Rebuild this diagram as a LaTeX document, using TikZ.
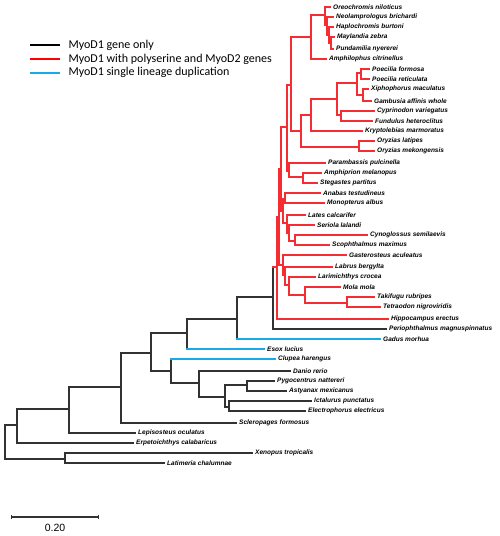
\documentclass[tikz,border=0pt]{standalone}
\usepackage{fontspec}
\setmainfont{Liberation Sans}
\newfontfamily\legfont{Carlito}
\newfontfamily\spfont{Liberation Sans}
\usetikzlibrary{arrows.meta}
\definecolor{treeblack}{RGB}{50,50,50}
\definecolor{treered}{RGB}{245,45,50}
\definecolor{treecyan}{RGB}{25,170,230}
\tikzset{
  treeline/.style={line width=1.5pt,line cap=rect},
  blk/.style={treeline,line width=1.35pt,draw=treeblack},
  rd/.style={treeline,draw=treered},
  cy/.style={treeline,draw=treecyan}}
% same colour parent and child: one elbow path
\newcommand\br[3]{\draw[#1] (#2) |- (#3);}
% black parent, coloured child
\newcommand\brc[3]{\draw[blk] (#2) -- (#2 |- #3); \draw[#1] (#2 |- #3) -- (#3);}
\newcommand\leafnode[4]{\node[leaf] (#1) at ({#3-2.5},#2) {#4};}
\begin{document}
\begin{tikzpicture}[x=1pt,y=-1pt,
  leaf/.style={anchor=west,inner xsep=2.5pt,inner ysep=0.5pt,font=\spfont\bfseries\itshape\fontsize{6.5}{7}\selectfont,text=black},
  legtext/.style={anchor=west,inner sep=0pt,font=\legfont\fontsize{12}{14}\selectfont},
  legline/.style={line width=2.6pt,line cap=butt}]
\useasboundingbox (0,0) rectangle (500,536);
\fill[white] (0,0) rectangle (500,536);
% leaves
\leafnode{l0}{7}{333}{Oreochromis niloticus}
\leafnode{l1}{17}{336}{Neolamprologus brichardi}
\leafnode{l2}{27}{336}{Haplochromis burtoni}
\leafnode{l3}{37}{337}{Maylandia zebra}
\leafnode{l4}{49}{336}{Pundamilia nyererei}
\leafnode{l5}{59}{329}{Amphilophus citrinellus}
\leafnode{l6}{69}{372}{Poecilia formosa}
\leafnode{l7}{79}{372}{Poecilia reticulata}
\leafnode{l8}{89}{371}{Xiphophorus maculatus}
\leafnode{l9}{101}{374}{Gambusia affinis whole}
\leafnode{l10}{111}{377}{Cyprinodon variegatus}
\leafnode{l11}{121}{375}{Fundulus heteroclitus}
\leafnode{l12}{131}{365}{Kryptolebias marmoratus}
\leafnode{l13}{141}{377}{Oryzias latipes}
\leafnode{l14}{151}{377}{Oryzias mekongensis}
\leafnode{l15}{163}{328}{Parambassis pulcinella}
\leafnode{l16}{173}{324}{Amphiprion melanopus}
\leafnode{l17}{183}{320}{Stegastes partitus}
\leafnode{l18}{193}{323}{Anabas testudineus}
\leafnode{l19}{203}{327}{Monopterus albus}
\leafnode{l20}{215}{308}{Lates calcarifer}
\leafnode{l21}{225}{317}{Seriola lalandi}
\leafnode{l22}{235}{370}{Cynoglossus semilaevis}
\leafnode{l23}{245}{332}{Scophthalmus maximus}
\leafnode{l24}{255}{349}{Gasterosteus aculeatus}
\leafnode{l25}{267}{335}{Labrus bergylta}
\leafnode{l26}{277}{318}{Larimichthys crocea}
\leafnode{l27}{287}{343}{Mola mola}
\leafnode{l28}{297}{377}{Takifugu rubripes}
\leafnode{l29}{307}{383}{Tetraodon nigroviridis}
\leafnode{l30}{319}{391}{Hippocampus erectus}
\leafnode{l31}{329}{389}{Periophthalmus magnuspinnatus}
\leafnode{l32}{339}{383}{Gadus morhua}
\leafnode{l33}{349}{267}{Esox lucius}
\leafnode{l34}{359}{278}{Clupea harengus}
\leafnode{l35}{371}{293}{Danio rerio}
\leafnode{l36}{381}{277}{Pygocentrus nattereri}
\leafnode{l37}{391}{289}{Astyanax mexicanus}
\leafnode{l38}{401}{314}{Ictalurus punctatus}
\leafnode{l39}{411}{308}{Electrophorus electricus}
\leafnode{l40}{423}{239}{Scleropages formosus}
\leafnode{l41}{433}{138}{Lepisosteus oculatus}
\leafnode{l42}{443}{136}{Erpetoichthys calabaricus}
\leafnode{l43}{453}{255}{Xenopus tropicalis}
\leafnode{l44}{463}{167}{Latimeria chalumnae}
% internal nodes
\coordinate (C4) at (331,43);
\coordinate (C3) at (329,35);
\coordinate (C2) at (327,25);
\coordinate (C1) at (325,15);
\coordinate (nA) at (311,37);
\coordinate (P1) at (361,73);
\coordinate (P2) at (363,95);
\coordinate (P0) at (357,83);
\coordinate (CF) at (341,115);
\coordinate (K1) at (337,99);
\coordinate (K2) at (311,115);
\coordinate (OR) at (359,147);
\coordinate (K3) at (301,131);
\coordinate (TOP) at (291,85);
\coordinate (AS) at (303,177);
\coordinate (PA) at (289,171);
\coordinate (TP) at (287,127);
\coordinate (AM) at (285,199);
\coordinate (CS) at (295,241);
\coordinate (SS) at (289,233);
\coordinate (LS) at (287,223);
\coordinate (AL) at (283,211);
\coordinate (TPAL) at (281,169);
\coordinate (TT) at (347,303);
\coordinate (MT) at (305,295);
\coordinate (LM) at (289,285);
\coordinate (LB) at (285,275);
\coordinate (nG) at (283,265);
\coordinate (R1) at (279,217);
\coordinate (R0) at (277,267);
\coordinate (N274) at (273,297);
\coordinate (N236) at (237,319);
\coordinate (N186) at (187,333);
\coordinate (PyAs) at (247,385);
\coordinate (IE) at (229,407);
\coordinate (N224) at (225,397);
\coordinate (N199) at (199,383);
\coordinate (N170) at (171,371);
\coordinate (N150) at (151,353);
\coordinate (N120) at (121,387);
\coordinate (N68) at (69,409);
\coordinate (N16) at (17,425);
\coordinate (N65) at (65,459);
\coordinate (ROOT) at (5,441);
% red clade
\br{rd}{C4}{l3}\br{rd}{C4}{l4}
\br{rd}{C3}{l2}\br{rd}{C3}{C4}
\br{rd}{C2}{l1}\br{rd}{C2}{C3}
\br{rd}{C1}{l0}\br{rd}{C1}{C2}
\br{rd}{nA}{C1}\br{rd}{nA}{l5}
\br{rd}{P1}{l6}\br{rd}{P1}{l7}
\br{rd}{P2}{l8}\br{rd}{P2}{l9}
\br{rd}{P0}{P1}\br{rd}{P0}{P2}
\br{rd}{CF}{l10}\br{rd}{CF}{l11}
\br{rd}{K1}{P0}\br{rd}{K1}{CF}
\br{rd}{K2}{K1}\br{rd}{K2}{l12}
\br{rd}{OR}{l13}\br{rd}{OR}{l14}
\br{rd}{K3}{K2}\br{rd}{K3}{OR}
\br{rd}{TOP}{nA}\br{rd}{TOP}{K3}
\br{rd}{AS}{l16}\br{rd}{AS}{l17}
\br{rd}{PA}{l15}\br{rd}{PA}{AS}
\br{rd}{TP}{TOP}\br{rd}{TP}{PA}
\br{rd}{AM}{l18}\br{rd}{AM}{l19}
\br{rd}{CS}{l22}\br{rd}{CS}{l23}
\br{rd}{SS}{l21}\br{rd}{SS}{CS}
\br{rd}{LS}{l20}\br{rd}{LS}{SS}
\br{rd}{AL}{AM}\br{rd}{AL}{LS}
\br{rd}{TPAL}{TP}\br{rd}{TPAL}{AL}
\br{rd}{TT}{l28}\br{rd}{TT}{l29}
\br{rd}{MT}{l27}\br{rd}{MT}{TT}
\br{rd}{LM}{l26}\br{rd}{LM}{MT}
\br{rd}{LB}{l25}\br{rd}{LB}{LM}
\br{rd}{nG}{l24}\br{rd}{nG}{LB}
\br{rd}{R1}{TPAL}\br{rd}{R1}{nG}
\br{rd}{R0}{R1}\br{rd}{R0}{l30}
% backbone
\brc{rd}{N274}{R0}\br{blk}{N274}{l31}
\br{blk}{N236}{N274}\brc{cy}{N236}{l32}
\br{blk}{N186}{N236}\brc{cy}{N186}{l33}
\br{blk}{PyAs}{l36}\br{blk}{PyAs}{l37}
\br{blk}{IE}{l38}\br{blk}{IE}{l39}
\br{blk}{N224}{PyAs}\br{blk}{N224}{IE}
\br{blk}{N199}{l35}\br{blk}{N199}{N224}
\brc{cy}{N170}{l34}\br{blk}{N170}{N199}
\br{blk}{N150}{N186}\br{blk}{N150}{N170}
\br{blk}{N120}{N150}\br{blk}{N120}{l40}
\br{blk}{N68}{N120}\br{blk}{N68}{l41}
\br{blk}{N16}{N68}\br{blk}{N16}{l42}
\br{blk}{N65}{l43}\br{blk}{N65}{l44}
\br{blk}{ROOT}{N16}\br{blk}{ROOT}{N65}
% legend
\coordinate (lga) at (30,45); \coordinate (lgb) at (60,45);
\coordinate (lgc) at (30,59); \coordinate (lgd) at (60,59);
\coordinate (lge) at (30,73); \coordinate (lgf) at (60,73);
\draw[legline,black] (lga) -- (lgb);
\draw[legline,red] (lgc) -- (lgd);
\draw[legline,treecyan] (lge) -- (lgf);
\node[legtext] (lt1) at (68.3,45) {MyoD1 gene only};
\node[legtext] (lt2) at (68.3,59.3) {MyoD1 with polyserine and MyoD2 genes};
\node[legtext] (lt3) at (68.3,72.7) {MyoD1 single lineage duplication};
% scale bar
\coordinate (sba) at (11,517); \coordinate (sbb) at (99.3,517);
\draw[treeblack,line width=1.2pt,line cap=butt,{Bar[width=4pt]}-{Bar[width=4pt]}] (sba) -- (sbb);
\node[font=\fontsize{10.5}{12}\selectfont,inner sep=0pt] (sbl) at (55,527.5) {0.20};
\end{tikzpicture}
\end{document}
